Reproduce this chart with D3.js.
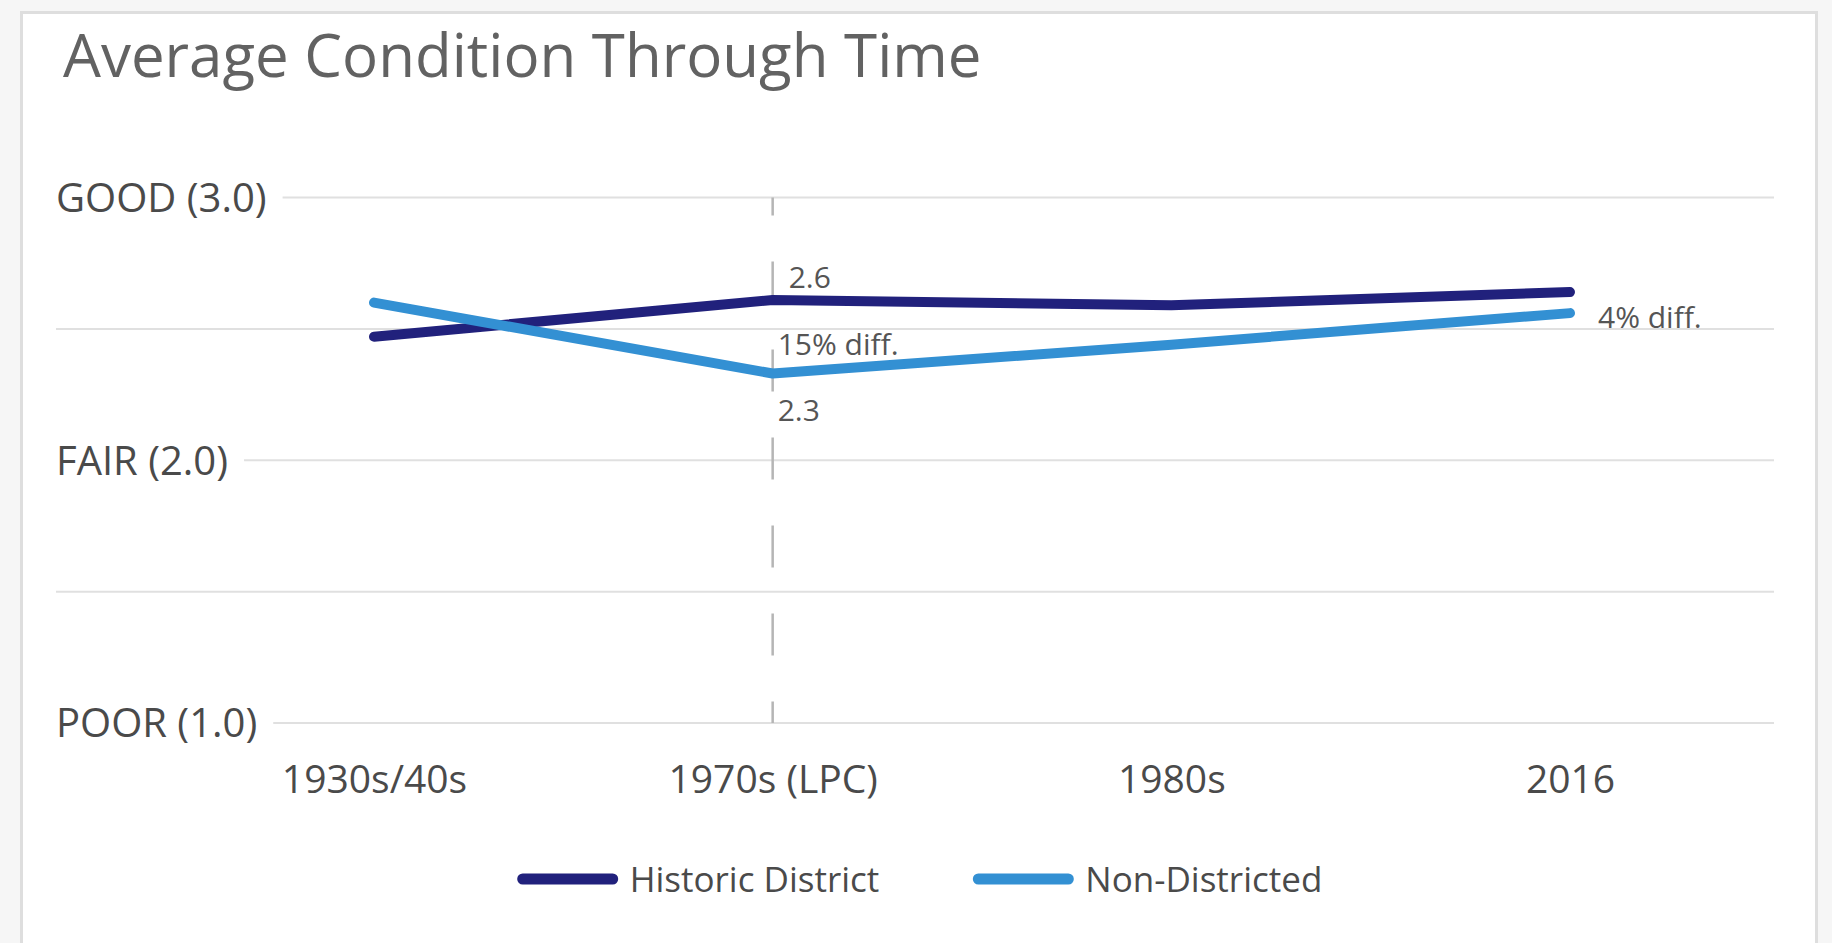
<!DOCTYPE html>
<html>
<head>
<meta charset="utf-8">
<script src="https://cdn.jsdelivr.net/npm/d3@7"></script>
<style>
  html, body { margin: 0; padding: 0; background: #f6f6f6; }
  svg { display: block; font-family: 'Open Sans', sans-serif; }
</style>
</head>
<body>
<svg id="chart"></svg>
<script>
const WIDTH = 1832;
const HEIGHT = 943;

// data
const periods = ['1930s/40s', '1970s (LPC)', '1980s', '2016'];
const seriesNames = ['Historic District', 'Non-Districted'];
const historicValues = [2.47, 2.61, 2.59, 2.64];
const nonDistrictedValues = [2.60, 2.33, 2.44, 2.56];
const yTicks = [3, 2.5, 2, 1.5, 1];
const yTickLabels = ['GOOD (3.0)', '', 'FAIR (2.0)', '', 'POOR (1.0)'];
const annotationTexts = ['2.6', '15% diff.', '2.3', '4% diff.'];

const COLORS = ['#21217c', '#3390d3'];
const GRID_LEFT = 56;
const GRID_RIGHT = 1774;

const svg = d3.select('#chart')
  .attr('width', WIDTH)
  .attr('height', HEIGHT);

// card
svg.append('rect')
  .attr('x', 21.5)
  .attr('y', 12.5)
  .attr('width', 1795)
  .attr('height', 960)
  .attr('fill', '#fff')
  .attr('stroke', '#dedede')
  .attr('stroke-width', 3);

svg.append('text')
  .attr('x', 63)
  .attr('y', 77)
  .attr('fill', '#626262')
  .attr('font-size', 60)
  .attr('font-weight', 400)
  .text('Average Condition Through Time');

const xScale = d3.scalePoint()
  .domain(periods)
  .range([374, 1570]);

const yScale = d3.scaleLinear()
  .domain([1, 3])
  .range([723, 197.5]);

// gridlines + level labels
const grid = svg.append('g').attr('class', 'grid');
yTicks.forEach((t, i) => {
  let startX = GRID_LEFT;
  if (yTickLabels[i]) {
    const lbl = grid.append('text')
      .attr('x', GRID_LEFT)
      .attr('y', yScale(t))
      .attr('dy', '0.36em')
      .attr('fill', '#4a4a4a')
      .attr('font-size', 40)
      .text(yTickLabels[i]);
    startX = GRID_LEFT + lbl.node().getComputedTextLength() + 16;
  }
  grid.append('line')
    .attr('x1', startX)
    .attr('x2', GRID_RIGHT)
    .attr('y1', yScale(t))
    .attr('y2', yScale(t))
    .attr('stroke', '#e0e0e0')
    .attr('stroke-width', 2);
});

// dashed marker at the LPC period
svg.append('line')
  .attr('x1', xScale(periods[1]))
  .attr('x2', xScale(periods[1]))
  .attr('y1', yScale(3))
  .attr('y2', yScale(1))
  .attr('stroke', '#b5b5b5')
  .attr('stroke-width', 2.5)
  .attr('stroke-dasharray', '42,46')
  .attr('stroke-dashoffset', 24);

// x axis
const xAxis = d3.axisBottom(xScale).tickSize(0).tickPadding(0);
const xAxisG = svg.append('g')
  .attr('transform', `translate(0, ${yScale(1) + 56})`)
  .call(xAxis);
xAxisG.select('.domain').remove();
xAxisG.selectAll('text')
  .attr('font-family', "'Open Sans', sans-serif")
  .attr('font-size', 39)
  .attr('fill', '#4a4a4a')
  .attr('dy', '0.36em');

// lines
const line = d3.line()
  .x((d, i) => xScale(periods[i]))
  .y(d => yScale(d));

const allSeries = [historicValues, nonDistrictedValues];
svg.selectAll('path.series')
  .data(allSeries)
  .enter()
  .append('path')
  .attr('class', 'series')
  .attr('d', d => line(d))
  .attr('fill', 'none')
  .attr('stroke', (d, i) => COLORS[i])
  .attr('stroke-width', 10)
  .attr('stroke-linecap', 'round')
  .attr('stroke-linejoin', 'round');

// annotations
const annX = xScale(periods[1]);
const lastX = xScale(periods[3]);
const ann = svg.append('g')
  .attr('fill', '#555')
  .attr('font-size', 30);
ann.append('text')
  .attr('x', annX + 16)
  .attr('y', yScale(historicValues[1]) - 23)
  .attr('dy', '0.36em')
  .text(annotationTexts[0]);
ann.append('text')
  .attr('x', annX + 5)
  .attr('y', yScale(nonDistrictedValues[1]) - 29)
  .attr('dy', '0.36em')
  .text(annotationTexts[1]);
ann.append('text')
  .attr('x', annX + 5)
  .attr('y', yScale(nonDistrictedValues[1]) + 37)
  .attr('dy', '0.36em')
  .text(annotationTexts[2]);
ann.append('text')
  .attr('x', lastX + 28)
  .attr('y', yScale(nonDistrictedValues[3]) + 4)
  .attr('dy', '0.36em')
  .text(annotationTexts[3]);

// legend
const legend = svg.append('g').attr('class', 'legend');
const LEGEND_Y = 879;
const SWATCH = 100;
const items = legend.selectAll('g')
  .data(seriesNames)
  .enter()
  .append('g');
items.append('line')
  .attr('x1', 5)
  .attr('x2', SWATCH - 5)
  .attr('y1', LEGEND_Y)
  .attr('y2', LEGEND_Y)
  .attr('stroke', (d, i) => COLORS[i])
  .attr('stroke-width', 11)
  .attr('stroke-linecap', 'round');
items.append('text')
  .attr('x', SWATCH + 12)
  .attr('y', LEGEND_Y)
  .attr('dy', '0.36em')
  .attr('font-size', 35)
  .attr('fill', '#4a4a4a')
  .text(d => d);

const widths = [];
items.each(function () {
  const w = SWATCH + 12 + d3.select(this).select('text').node().getComputedTextLength();
  widths.push(w);
});
const GAP = 94;
const total = d3.sum(widths) + GAP * (widths.length - 1);
let startX = 920 - total / 2;
items.attr('transform', (d, i) => {
  const x = startX;
  startX += widths[i] + GAP;
  return `translate(${x}, 0)`;
});
</script>
</body>
</html>
